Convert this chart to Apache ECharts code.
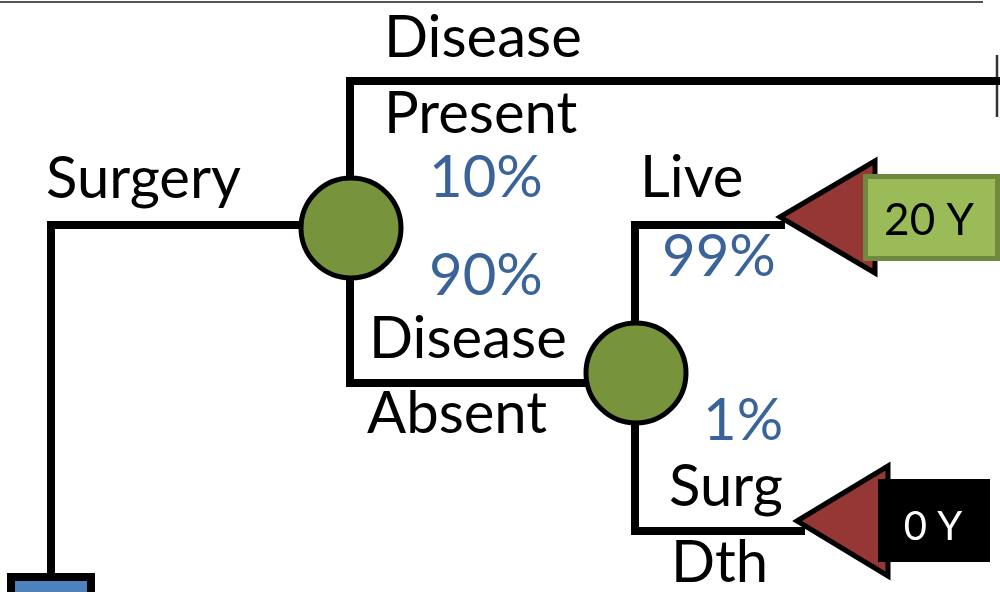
<!DOCTYPE html>
<html><head><meta charset="utf-8">
<script src="https://cdn.jsdelivr.net/npm/echarts@6/dist/echarts.min.js"></script>
<style>html,body{margin:0;padding:0;background:#fff}#c{width:1000px;height:592px}</style>
</head><body><div id="c"></div>
<script>
// ---- Diagram data (node points of each tree branch, diagram units) ----
const branchSurgery = [[51,582],[51,225],[300,225]];
const branchPresent = [[350,176],[350,81],[1000,81]];
const branchAbsent  = [[350,280],[350,383],[586,383]];
const branchLive    = [[635,322],[635,225],[785,225]];
const branchDeath   = [[635,424],[635,531],[805,531]];
const chanceNodes   = [[351,228],[636,373]];
const decisionNode  = [51,600];
const branchNames   = ['Surgery','Disease','Present','Disease','Absent','Live','Surg','Dth'];
const probabilities = ['10%','90%','99%','1%'];
const outcomes      = ['20 Y','0 Y'];
const terminalTips  = [[780,217],[797,521]];

// ---- Layout / style ----
const FONT = 'Lato';
const LBL = 58;
const ASC = 0.83; // baseline offset from top of line box (fraction of font size)
const labelPos = [[46,198],[384,57],[384,133],[369,358],[367,433],[640,197],[669,506],[671,582]];
const probPos  = [[429,197],[429,295],[662,276],[703,440]];

const chart = echarts.init(document.getElementById('c'));

function txt(x, baseline, s, size, color, align){
  return {type:'text', style:{x:x, y:baseline - size*ASC, text:s, font:size+'px '+FONT, fill:color, textAlign:align, textVerticalAlign:'top'}};
}

function renderItem(params, api){
  const c = p => api.coord(p);
  const ch = [];
  // frame fragments
  ch.push({type:'polyline', shape:{points:[c([0,2]),c([983,2])]}, style:{stroke:'#555', lineWidth:2, fill:null}});
  ch.push({type:'polyline', shape:{points:[c([997,55]),c([997,117])]}, style:{stroke:'#333', lineWidth:2.5, fill:null}});
  // branches
  [branchSurgery, branchPresent, branchAbsent, branchLive, branchDeath].forEach(b => {
    ch.push({type:'polyline', shape:{points:b.map(c)}, style:{stroke:'#000', lineWidth:8, fill:null, lineJoin:'miter', lineCap:'butt'}});
  });
  // decision node (square, partly off-canvas)
  const d = c(decisionNode);
  ch.push({type:'rect', shape:{x:d[0]-40, y:d[1]-23, width:80, height:60}, style:{fill:'#4F81BD', stroke:'#000', lineWidth:8}});
  // chance nodes
  chanceNodes.forEach(n => {
    const p = c(n);
    ch.push({type:'circle', shape:{cx:p[0], cy:p[1], r:50}, style:{fill:'#77933C', stroke:'#000', lineWidth:5}});
  });
  // terminal triangles
  const triBack = [95, 91];
  const triHalf = [56, 55];
  terminalTips.forEach((t,i) => {
    const tip = c(t);
    const bx = tip[0] + triBack[i];
    ch.push({type:'polygon', shape:{points:[tip,[bx,tip[1]-triHalf[i]],[bx,tip[1]+triHalf[i]]]}, style:{fill:'#953735', stroke:'#000', lineWidth:5, lineJoin:'miter'}});
  });
  // outcome boxes
  const t1 = c(terminalTips[0]);
  ch.push({type:'rect', shape:{x:t1[0]+85.5, y:t1[1]-40.5, width:132, height:82}, style:{fill:'#9BBB59', stroke:'#71893F', lineWidth:5}});
  ch.push(txt(t1[0]+149, t1[1]+18, outcomes[0], 44, '#000', 'center'));
  const t2 = c(terminalTips[1]);
  ch.push({type:'rect', shape:{x:t2[0]+81, y:t2[1]-42, width:112, height:83}, style:{fill:'#000'}});
  ch.push(txt(t2[0]+136, t2[1]+19, outcomes[1], 40, '#fff', 'center'));
  // labels
  branchNames.forEach((s,i) => {
    const p = c(labelPos[i]);
    ch.push(txt(p[0], p[1], s, LBL, '#000', 'left'));
  });
  probabilities.forEach((s,i) => {
    const p = c(probPos[i]);
    ch.push(txt(p[0], p[1], s, LBL, '#3A6499', 'left'));
  });
  return {type:'group', children:ch};
}

chart.setOption({
  animation:false,
  grid:{left:0,right:0,top:0,bottom:0},
  xAxis:{type:'value', min:0, max:1000, show:false},
  yAxis:{type:'value', min:0, max:592, inverse:true, show:false},
  series:[{type:'custom', renderItem:renderItem, data:[[0,0]], clip:false}]
});
</script></body></html>
